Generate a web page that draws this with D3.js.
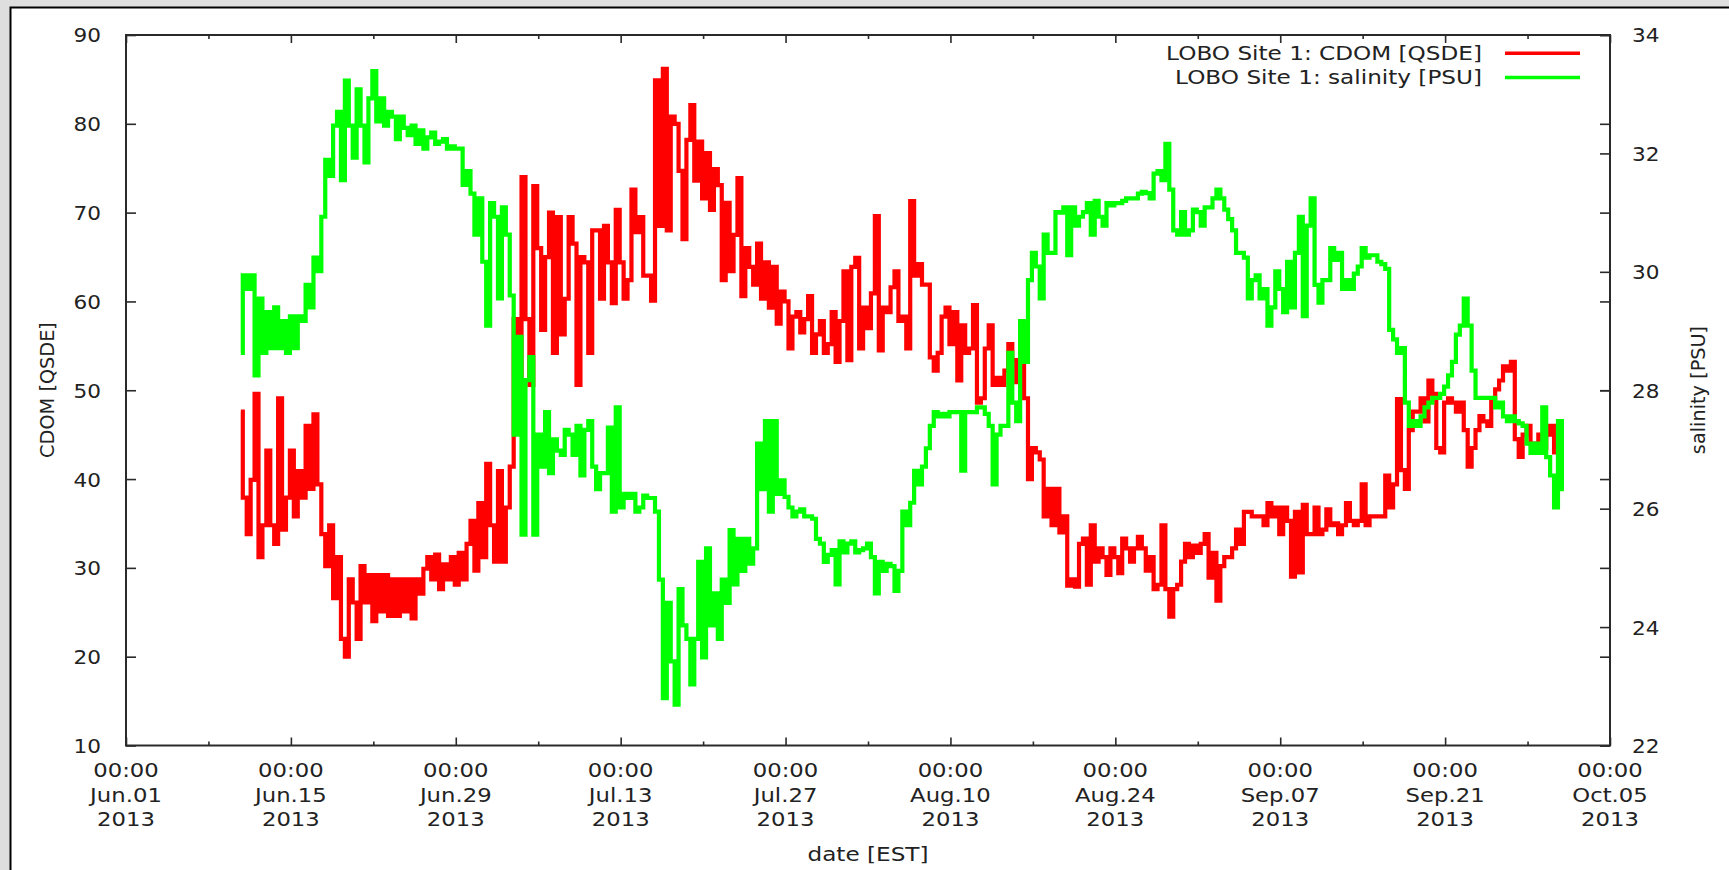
<!DOCTYPE html>
<html><head><meta charset="utf-8">
<script src="https://cdn.jsdelivr.net/npm/d3@7"></script>
<style>
html,body{margin:0;padding:0;background:#dedede;overflow:hidden}
svg{display:block}
text{font-family:"DejaVu Sans",sans-serif;fill:#222;font-size:19.3px}
</style></head><body>
<svg id="chart" width="1729" height="870"></svg>
<script>
// ---------------- data ----------------
const seriesStart = "2013-06-10T18:00:00Z";
const stepHours = 8;
const cdomValues = [
47.6,37.9,33.8,39.9,49.6,31.2,34.8,43.2,34.8,32.7,
49.1,34.3,37.9,43.2,35.8,40.9,37.9,46.0,38.9,47.3,
39.4,33.8,30.2,34.8,26.6,31.2,22.0,20.0,28.7,26.1,
22.0,30.2,26.1,29.2,24.0,29.2,25.1,29.2,24.6,28.7,
24.6,28.7,25.1,28.7,24.3,28.7,27.1,29.9,31.2,28.7,
31.5,27.6,30.4,28.7,31.2,28.1,31.7,28.7,32.7,35.3,
29.7,37.3,31.2,41.7,34.8,30.7,40.9,30.7,36.8,41.4,
58.0,50.0,74.0,58.0,50.6,73.0,66.0,56.8,65.0,70.0,
54.2,69.5,56.3,60.3,69.5,66.5,50.6,65.0,64.4,54.2,
68.0,68.0,60.3,68.5,64.4,59.8,70.3,64.4,60.3,62.4,
72.6,67.8,69.5,62.9,62.9,60.1,84.9,68.5,86.2,68.0,
80.8,80.0,74.7,67.0,78.2,82.1,73.6,78.0,71.6,76.7,
70.3,74.9,73.1,62.4,71.1,63.4,67.5,73.9,60.6,66.0,
63.9,61.9,66.5,60.3,64.4,59.3,63.9,57.5,61.1,60.0,
54.7,58.3,58.8,56.5,58.0,60.6,54.2,56.3,57.8,54.2,
55.2,58.8,53.2,57.8,63.4,53.4,63.9,64.9,54.7,59.3,
57.0,60.9,69.6,54.5,59.3,58.8,61.6,63.4,57.8,58.3,
54.7,71.3,62.9,64.2,61.9,61.9,53.7,52.2,54.2,58.3,
59.3,55.2,58.8,51.1,57.3,54.2,54.7,59.6,48.6,49.1,
54.7,57.3,50.6,51.4,50.6,52.2,55.2,53.4,50.9,53.2,
49.1,40.0,43.5,43.0,42.2,35.8,38.9,34.8,38.9,34.0,
35.8,28.0,28.7,27.9,32.7,33.3,28.1,34.8,30.7,32.2,
31.2,29.2,32.2,31.2,29.4,33.3,32.2,30.7,32.2,33.5,
32.2,29.7,31.2,27.6,28.1,34.8,27.6,24.5,27.6,28.1,
30.7,32.7,31.2,32.5,31.7,32.7,33.8,28.9,31.7,26.3,
30.2,31.2,31.2,32.2,34.3,32.7,36.3,36.3,35.8,35.8,
35.8,34.8,37.3,35.8,36.8,33.8,36.8,35.3,29.0,36.3,
29.5,37.1,33.8,33.8,36.8,33.8,34.3,36.6,34.8,35.0,
33.8,34.8,37.3,35.3,34.8,35.3,39.4,34.8,35.8,35.8,
35.8,35.8,40.4,36.8,39.4,49.0,41.0,38.9,45.5,47.6,
47.6,49.1,46.5,51.1,49.6,43.5,43.0,48.6,49.1,48.6,
47.6,48.6,45.5,41.4,43.5,45.5,47.1,46.5,46.0,49.1,
50.1,51.1,52.7,52.2,53.2,44.5,42.5,45.0,46.0,44.0,
43.0,45.0,43.5,45.0,46.0,43.0,44.0,46.0];
const salinityValues = [
28.63,29.94,29.71,29.94,28.25,29.55,28.63,29.32,28.71,29.40,
28.71,29.17,28.63,29.25,28.71,29.25,29.17,29.78,29.40,30.24,
30.01,30.93,31.89,31.62,32.47,32.70,31.55,33.23,32.47,31.93,
33.08,32.47,31.85,32.93,33.39,32.54,32.93,32.47,32.70,32.62,
32.24,32.62,32.43,32.31,32.47,32.16,32.39,32.08,32.27,32.35,
32.16,32.20,32.24,32.08,32.12,32.08,32.08,31.47,31.70,31.32,
30.63,31.24,30.17,29.09,31.16,30.93,29.55,31.09,30.63,29.60,
27.25,28.90,25.56,28.17,28.56,25.56,27.25,26.71,27.63,26.60,
27.17,26.98,26.91,27.33,27.25,26.91,27.40,26.56,27.33,27.48,
26.71,26.33,26.60,26.60,27.37,25.95,27.71,26.02,26.25,26.18,
26.25,25.95,26.02,26.22,26.18,26.18,25.95,24.80,22.80,24.41,
23.42,22.69,24.64,24.03,23.80,23.03,23.80,25.10,23.49,25.33,
24.03,24.57,23.80,24.80,24.41,25.64,24.72,25.49,24.95,25.49,
25.07,25.33,27.10,26.33,27.48,25.95,27.48,26.25,26.48,26.20,
26.02,25.87,25.95,25.99,25.87,25.87,25.83,25.49,25.41,25.10,
25.22,25.30,24.72,25.45,25.26,25.41,25.45,25.26,25.30,25.33,
25.41,25.18,24.57,25.10,24.95,25.07,25.03,24.61,24.95,25.95,
25.72,26.10,26.64,26.41,26.71,27.02,27.40,27.63,27.56,27.60,
27.56,27.63,27.63,27.63,26.64,27.63,27.63,27.63,27.71,27.71,
27.60,27.40,26.41,27.25,27.40,27.40,28.63,27.79,27.48,29.17,
28.48,29.86,30.32,30.09,29.55,30.63,30.32,30.32,31.01,31.00,
31.09,30.28,31.09,30.78,30.93,31.01,31.16,30.63,31.20,30.93,
30.78,31.16,31.12,31.16,31.16,31.20,31.24,31.24,31.24,31.32,
31.35,31.33,31.24,31.66,31.70,31.55,32.16,31.39,30.70,30.63,
31.01,30.63,30.70,31.05,31.01,30.78,31.09,31.09,31.24,31.39,
31.24,31.05,30.89,30.70,30.32,30.32,30.24,29.55,29.86,29.94,
29.55,29.71,29.09,29.40,30.01,29.71,29.32,30.17,29.40,30.32,
30.93,29.25,30.78,31.24,29.78,29.48,29.86,29.86,30.40,30.20,
30.32,29.71,29.86,29.71,29.97,30.09,30.40,30.24,30.28,30.28,
30.17,30.13,30.05,29.02,28.86,28.63,28.71,27.79,27.40,27.48,
27.40,27.56,27.71,27.79,27.87,27.87,27.94,28.06,28.25,28.48,
28.94,29.09,29.55,29.09,28.33,27.87,27.87,27.87,27.87,27.87,
27.71,27.79,27.56,27.48,27.56,27.48,27.44,27.40,27.10,26.94,
27.10,26.94,27.71,26.87,26.56,26.02,27.48,26.33];
const xDomain = ["2013-06-01T00:00:00Z", "2013-10-05T00:00:00Z"];
const xTickDates = ["2013-06-01","2013-06-15","2013-06-29","2013-07-13","2013-07-27",
                    "2013-08-10","2013-08-24","2013-09-07","2013-09-21","2013-10-05"];
const xMinorDates = ["2013-06-08","2013-06-22","2013-07-06","2013-07-20","2013-08-03",
                     "2013-08-17","2013-08-31","2013-09-14","2013-09-28"];
const cdomTicks = [10,20,30,40,50,60,70,80,90];
const salinityTicks = [22,24,26,28,30,32,34];
const seriesLabels = ["LOBO Site 1: CDOM [QSDE]", "LOBO Site 1: salinity [PSU]"];
const seriesColors = ["#ff0000", "#00ff00"];
const axisTitles = {left: "CDOM [QSDE]", right: "salinity [PSU]", bottom: "date [EST]"};

// ---------------- layout ----------------
const W = 1729, H = 870;
const L = 126, R = 1610, T = 35, B = 745.5;
const S = 1.18; // horizontal stretch of the original text rendering

const svg = d3.select("#chart");
const parseD = s => new Date(s + (s.length === 10 ? "T00:00:00Z" : ""));

function stretch(sel, k) {
  sel.each(function () {
    const len = this.getComputedTextLength();
    if (len > 0) {
      this.setAttribute("textLength", (len * k).toFixed(2));
      this.setAttribute("lengthAdjust", "spacingAndGlyphs");
    }
  });
}

// frame
svg.append("rect").attr("x", 0).attr("y", 0).attr("width", W).attr("height", H).attr("fill", "#dedede");
svg.append("rect").attr("x", 10).attr("y", 7).attr("width", W).attr("height", H).attr("fill", "#ffffff");
svg.append("path").attr("d", `M10.5,${H}V7.5H${W}`).attr("fill", "none").attr("stroke", "#000").attr("stroke-width", 2);

const x = d3.scaleUtc().domain(xDomain.map(s => new Date(s))).range([L, R]);
const y = d3.scaleLinear().domain([10, 90]).range([B, T]);
const y2 = d3.scaleLinear().domain([22, 34]).range([B, T]);

const axisColor = "#2a2a2a";

// series
const t0 = new Date(seriesStart).getTime();
const timeOf = i => new Date(t0 + i * stepHours * 3600 * 1000);

svg.append("clipPath").attr("id", "plotclip").append("rect")
  .attr("x", L).attr("y", T).attr("width", R - L).attr("height", B - T);

const plot = svg.append("g").attr("clip-path", "url(#plotclip)");
const lineC = d3.line().x((d, i) => x(timeOf(i))).y(d => y(d)).curve(d3.curveStep);
const lineS = d3.line().x((d, i) => x(timeOf(i))).y(d => y2(d)).curve(d3.curveStep);
plot.append("path").attr("d", lineC(cdomValues)).attr("fill", "none")
  .attr("stroke", seriesColors[0]).attr("stroke-width", 4.2).attr("stroke-linejoin", "miter");
plot.append("path").attr("d", lineS(salinityValues)).attr("fill", "none")
  .attr("stroke", seriesColors[1]).attr("stroke-width", 4.2).attr("stroke-linejoin", "miter");

// axes (ticks)
function styleAxis(g) {
  g.select(".domain").remove();
  g.selectAll(".tick line").attr("stroke", axisColor).attr("stroke-width", 1.6);
  g.selectAll("text").attr("fill", "#222").attr("font-family", "DejaVu Sans").attr("font-size", 19.3);
}
const majors = xTickDates.map(parseD), minors = xMinorDates.map(parseD);
svg.append("g").attr("transform", `translate(0,${B})`)
  .call(d3.axisBottom(x).tickValues(majors).tickSizeInner(-8).tickSizeOuter(0).tickFormat("")).call(styleAxis);
svg.append("g").attr("transform", `translate(0,${B})`)
  .call(d3.axisBottom(x).tickValues(minors).tickSizeInner(-4).tickSizeOuter(0).tickFormat("")).call(styleAxis);
svg.append("g").attr("transform", `translate(0,${T})`)
  .call(d3.axisTop(x).tickValues(majors).tickSizeInner(-8).tickSizeOuter(0).tickFormat("")).call(styleAxis);
svg.append("g").attr("transform", `translate(0,${T})`)
  .call(d3.axisTop(x).tickValues(minors).tickSizeInner(-4).tickSizeOuter(0).tickFormat("")).call(styleAxis);

const gl = svg.append("g").attr("transform", `translate(${L},0)`)
  .call(d3.axisLeft(y).tickValues(cdomTicks).tickSizeInner(-10).tickSizeOuter(0).tickPadding(25).tickFormat(d3.format("d")))
  .call(styleAxis);
gl.selectAll("text").attr("dy", "0.36em");
stretch(gl.selectAll("text"), 1.12);

svg.append("g").attr("transform", `translate(${R},0)`)
  .call(d3.axisRight(y).tickValues(cdomTicks).tickSizeInner(-10).tickSizeOuter(0).tickFormat(""))
  .call(styleAxis);
const gr = svg.append("g").attr("transform", `translate(${R},0)`)
  .call(d3.axisRight(y2).tickValues(salinityTicks).tickSizeInner(-10).tickSizeOuter(0).tickPadding(22).tickFormat(d3.format("d")))
  .call(styleAxis);
gr.selectAll("text").attr("dy", "0.36em");
stretch(gr.selectAll("text"), 1.12);

// plot border
svg.append("rect").attr("x", L).attr("y", T).attr("width", R - L).attr("height", B - T)
  .attr("fill", "none").attr("stroke", axisColor).attr("stroke-width", 2);

// x tick labels, three lines each
const fH = d3.utcFormat("%H:%M"), fD = d3.utcFormat("%b.%d"), fY = d3.utcFormat("%Y");
const xl = svg.append("g");
majors.forEach(d => {
  [[fH(d), 777], [fD(d), 801.5], [fY(d), 826]].forEach(([s, yy]) => {
    xl.append("text").attr("x", x(d)).attr("y", yy).attr("text-anchor", "middle").text(s);
  });
});
stretch(xl.selectAll("text"), S);

// axis titles
const tb = svg.append("text").attr("x", (L + R) / 2).attr("y", 861).attr("text-anchor", "middle").text(axisTitles.bottom);
stretch(tb, 1.2);
svg.append("text").attr("transform", "translate(47,390) rotate(-90)").attr("text-anchor", "middle")
  .attr("dy", "0.35em").text(axisTitles.left);
svg.append("text").attr("transform", "translate(1698,390) rotate(-90)").attr("text-anchor", "middle")
  .attr("dy", "0.35em").text(axisTitles.right);

// legend
const lg = svg.append("g");
seriesLabels.forEach((lab, i) => {
  const yy = 53.3 + i * 24.2;
  const t = lg.append("text").attr("x", 1482).attr("y", yy).attr("dy", "0.36em").attr("text-anchor", "end").text(lab);
  stretch(t, 1.2);
  lg.append("line").attr("x1", 1505).attr("x2", 1580).attr("y1", yy).attr("y2", yy)
    .attr("stroke", seriesColors[i]).attr("stroke-width", 3.5);
});
</script>
</body></html>
